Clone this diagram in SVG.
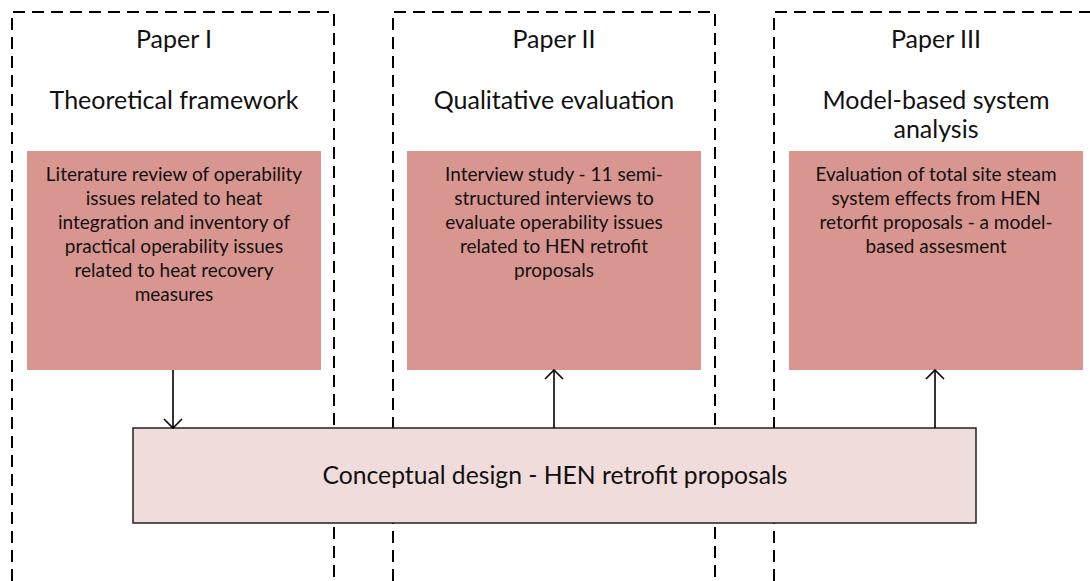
<svg xmlns="http://www.w3.org/2000/svg" width="1090" height="581" viewBox="0 0 1090 581">
<style>
.lane{fill:none;stroke:#000;stroke-width:2;stroke-dasharray:12,7}
.card{fill:#d9958f}
.t{font-family:Lato,"Open Sans",sans-serif;fill:#111;text-anchor:middle}
.h{font-size:25px}
.b{font-size:19px}
.c{font-size:24.7px}
.con{stroke:#000;stroke-width:1.6;fill:none}
</style>
<defs>
<marker id="ah" viewBox="0 0 11 20" refX="10" refY="10" markerWidth="11" markerHeight="20" markerUnits="userSpaceOnUse" orient="auto">
<path d="M1,1 L10,10 L1,19" fill="none" stroke="#000" stroke-width="1.6"/>
</marker>
</defs>
<g id="lane1">
<path class="lane" d="M12,581 V12 H334 V581"/>
<text class="t h" x="174" y="48">Paper I</text>
<text class="t h" x="174" y="109">Theoretical framework</text>
</g>
<g id="lane2">
<path class="lane" d="M393,581 V12 H715 V581"/>
<text class="t h" x="554" y="48">Paper II</text>
<text class="t h" x="554" y="109">Qualitative evaluation</text>
</g>
<g id="lane3">
<path class="lane" d="M774,581 V12 H1090"/>
<text class="t h" x="936" y="48">Paper III</text>
<text class="t h" x="936" y="109">Model-based system</text>
<text class="t h" x="936" y="138">analysis</text>
</g>
<g id="card1">
<rect class="card" x="27" y="151" width="294" height="219"/>
<text class="t b" x="174" y="181">Literature review of operability</text>
<text class="t b" x="174" y="205">issues related to heat</text>
<text class="t b" x="174" y="229">integration and inventory of</text>
<text class="t b" x="174" y="253">practical operability issues</text>
<text class="t b" x="174" y="277">related to heat recovery</text>
<text class="t b" x="174" y="301">measures</text>
</g>
<g id="card2">
<rect class="card" x="407" y="151" width="294" height="219"/>
<text class="t b" x="554" y="181">Interview study - 11 semi-</text>
<text class="t b" x="554" y="205">structured interviews to</text>
<text class="t b" x="554" y="229">evaluate operability issues</text>
<text class="t b" x="554" y="253">related to HEN retrofit</text>
<text class="t b" x="554" y="277">proposals</text>
</g>
<g id="card3">
<rect class="card" x="789" y="151" width="294" height="219"/>
<text class="t b" x="936" y="181">Evaluation of total site steam</text>
<text class="t b" x="936" y="205">system effects from HEN</text>
<text class="t b" x="936" y="229">retorfit proposals - a model-</text>
<text class="t b" x="936" y="253">based assesment</text>
</g>
<g id="concept">
<rect x="133" y="428" width="843" height="95" fill="#f0dcdb" stroke="#222" stroke-width="1.5"/>
<text class="t c" x="555" y="484">Conceptual design - HEN retrofit proposals</text>
</g>
<g id="connectors">
<line class="con" x1="173" y1="370" x2="173" y2="428" marker-end="url(#ah)"/>
<line class="con" x1="554" y1="428" x2="554" y2="370" marker-end="url(#ah)"/>
<line class="con" x1="935" y1="428" x2="935" y2="370" marker-end="url(#ah)"/>
</g>
</svg>
